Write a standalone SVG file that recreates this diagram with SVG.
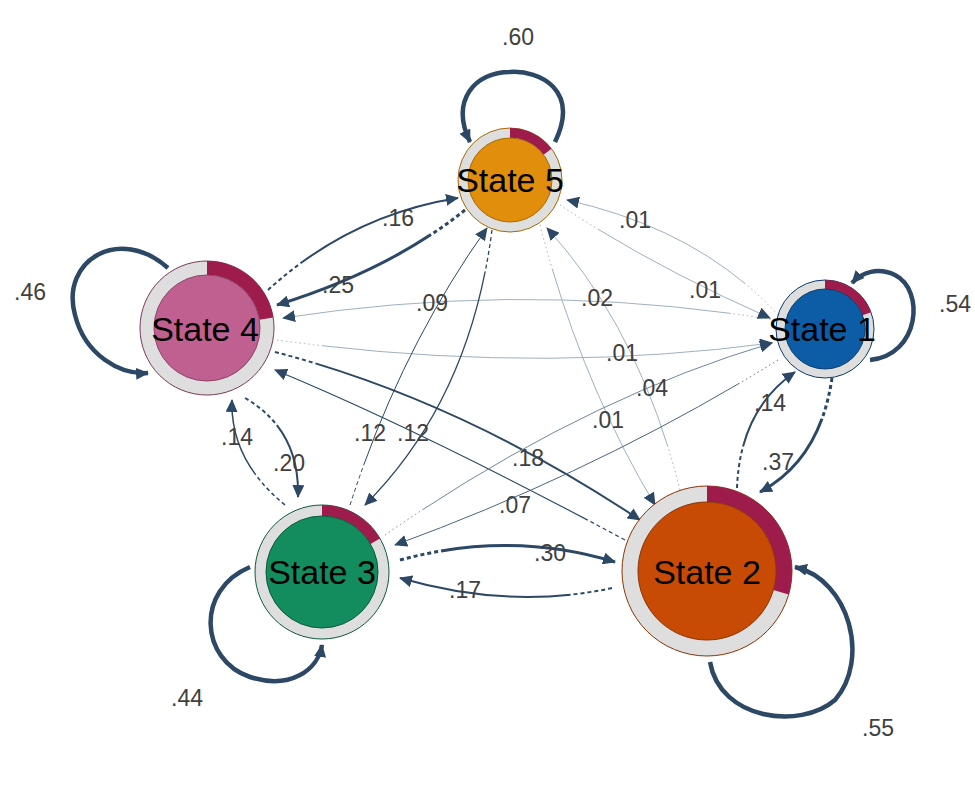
<svg xmlns="http://www.w3.org/2000/svg" width="975" height="810" viewBox="0 0 975 810">
<style>
.e{fill:none;stroke:#2c4864;stroke-dasharray:4 3 4 3 4 3 4 3 4 3 4 3 2000 1}
.w{fill:none;stroke:#9fb0c0;stroke-width:1;stroke-dasharray:1.5 3 1.5 3 1.5 3 1.5 3 1.5 3 1.5 3 1.5 3 1.5 3 1.5 3 1.5 3 2000 1}
.l{fill:none;stroke:#2c4864;stroke-width:4.5}
.lab{font-family:"Liberation Sans",Arial,sans-serif;font-size:23px;fill:#404040;text-anchor:middle}
.nl{font-family:"Liberation Sans",Arial,sans-serif;font-size:34px;fill:#000;text-anchor:middle}
.ring{fill:#dedede}
.pie{fill:#9e1c4b}
</style>
<defs>
<marker id="a" markerUnits="userSpaceOnUse" markerWidth="14" markerHeight="12" refX="12" refY="6" orient="auto"><path d="M0,0 L13,6 L0,12 Z" fill="#2c4864"/></marker>
<marker id="aw" markerUnits="userSpaceOnUse" markerWidth="14" markerHeight="12" refX="12" refY="6" orient="auto"><path d="M0,0 L13,6 L0,12 Z" fill="#2c4864"/></marker>
</defs>
<g id="edges">
<path class="l" d="M555,142 C580,90 540,70 510,72 C475,72 450,100 470,142" marker-end="url(#a)"/>
<path class="l" d="M168,268 C120,225 60,260 75,315 C85,355 120,375 148,373" marker-end="url(#a)"/>
<path class="l" d="M870,360 C920,355 925,290 895,275 C878,267 862,272 852,283" marker-end="url(#a)"/>
<path class="l" d="M250,567 C195,590 200,660 250,677 C290,690 318,670 322,645" marker-end="url(#a)"/>
<path class="l" d="M710,662 C720,720 800,730 835,700 C870,660 850,580 795,567" marker-end="url(#a)"/>
<path class="e" stroke-width="2" d="M268,290 Q350,215 458,198" marker-end="url(#a)"/>
<path class="e" stroke-width="3" d="M465,210 Q390,270 277,305" marker-end="url(#a)"/>
<path class="w" d="M775,320 Q530,280 283,318" marker-end="url(#aw)"/>
<path class="w" d="M277,340 Q530,375 772,343" marker-end="url(#aw)"/>
<path class="w" d="M778,315 Q700,230 567,200" marker-end="url(#aw)"/>
<path class="w" d="M560,205 Q650,265 770,318" marker-end="url(#aw)"/>
<path class="w" d="M540,225 Q580,380 655,505" marker-end="url(#aw)"/>
<path class="w" d="M680,490 Q640,330 547,228" marker-end="url(#aw)"/>
<path class="e" stroke-width="1" d="M350,505 Q400,350 487,228" marker-end="url(#a)"/>
<path class="e" stroke-width="1.3" d="M492,230 Q470,400 365,505" marker-end="url(#a)"/>
<path class="e" stroke-width="2" d="M245,398 Q300,430 298,497" marker-end="url(#a)"/>
<path class="e" stroke-width="1.5" d="M285,505 Q230,460 232,400" marker-end="url(#a)"/>
<path class="e" stroke-width="2" d="M275,352 Q460,400 640,520" marker-end="url(#a)"/>
<path class="e" stroke-width="1.2" d="M625,540 Q420,430 275,370" marker-end="url(#a)"/>
<path class="w" d="M385,535 Q580,400 772,343" marker-end="url(#aw)" style="stroke:#6f879e"/>
<path class="w" d="M778,360 Q600,470 395,545" marker-end="url(#aw)" style="stroke:#4a6580"/>
<path class="e" stroke-width="3" d="M400,560 Q510,530 615,562" marker-end="url(#a)"/>
<path class="e" stroke-width="2" d="M612,588 Q510,610 400,578" marker-end="url(#a)"/>
<path class="e" stroke-width="3" d="M832,378 Q820,460 760,492" marker-end="url(#a)"/>
<path class="e" stroke-width="2" d="M737,488 Q740,410 795,372" marker-end="url(#a)"/>
</g>
<g id="labels">
<text class="lab" x="518" y="45">.60</text>
<text class="lab" x="30" y="300">.46</text>
<text class="lab" x="955" y="312">.54</text>
<text class="lab" x="187" y="706">.44</text>
<text class="lab" x="878" y="736">.55</text>
<text class="lab" x="398" y="226">.16</text>
<text class="lab" x="338" y="293">.25</text>
<text class="lab" x="432" y="311">.09</text>
<text class="lab" x="597" y="306">.02</text>
<text class="lab" x="635" y="228">.01</text>
<text class="lab" x="705" y="298">.01</text>
<text class="lab" x="622" y="361">.01</text>
<text class="lab" x="652" y="396">.04</text>
<text class="lab" x="608" y="428">.01</text>
<text class="lab" x="770" y="411">.14</text>
<text class="lab" x="778" y="470">.37</text>
<text class="lab" x="237" y="445">.14</text>
<text class="lab" x="289" y="471">.20</text>
<text class="lab" x="370" y="441">.12</text>
<text class="lab" x="413" y="441">.12</text>
<text class="lab" x="528" y="466">.18</text>
<text class="lab" x="515" y="513">.07</text>
<text class="lab" x="550" y="561">.30</text>
<text class="lab" x="465" y="598">.17</text>
</g>
<g id="state5">
<circle class="ring" cx="510" cy="180" r="52" stroke="#a86a00" stroke-width="1"/>
<path class="pie" d="M510,128 A52,52 0 0 1 551.5,148.7 L543.6,154.7 A42,42 0 0 0 510,138 Z"/>
<circle cx="510" cy="180" r="42" fill="#e08e0b" stroke="#a86a00"/>
<text class="nl" x="510" y="192">State 5</text>
</g>
<g id="state4">
<circle class="ring" cx="207" cy="328" r="67" stroke="#7a3a5a"/>
<path class="pie" d="M207,261 A67,67 0 0 1 273.2,317.5 L259.4,319.7 A53,53 0 0 0 207,275 Z"/>
<circle cx="207" cy="328" r="53" fill="#c06090" stroke="#8a4468"/>
<text class="nl" x="205" y="341">State 4</text>
</g>
<g id="state1">
<circle class="ring" cx="825" cy="329" r="49" stroke="#0a3a6a"/>
<path class="pie" d="M825,280 A49,49 0 0 1 871.1,312.2 L862.6,315.3 A40,40 0 0 0 825,289 Z"/>
<circle cx="825" cy="329" r="40" fill="#0c5da5" stroke="#0a3a6a"/>
<text class="nl" x="822" y="341">State 1</text>
</g>
<g id="state3">
<circle class="ring" cx="322" cy="572" r="67" stroke="#0c5a3a"/>
<path class="pie" d="M322,505 A67,67 0 0 1 380,538.5 L370.5,544 A56,56 0 0 0 322,516 Z"/>
<circle cx="322" cy="572" r="56" fill="#138d5e" stroke="#0c5a3a"/>
<text class="nl" x="322" y="584">State 3</text>
</g>
<g id="state2">
<circle class="ring" cx="707" cy="571" r="85" stroke="#8a3204"/>
<path class="pie" d="M707,486 A85,85 0 0 1 788.7,594.5 L773.3,590 A69,69 0 0 0 707,502 Z"/>
<circle cx="707" cy="571" r="69" fill="#c84b05" stroke="#8a3204"/>
<text class="nl" x="707" y="584">State 2</text>
</g>
</svg>
